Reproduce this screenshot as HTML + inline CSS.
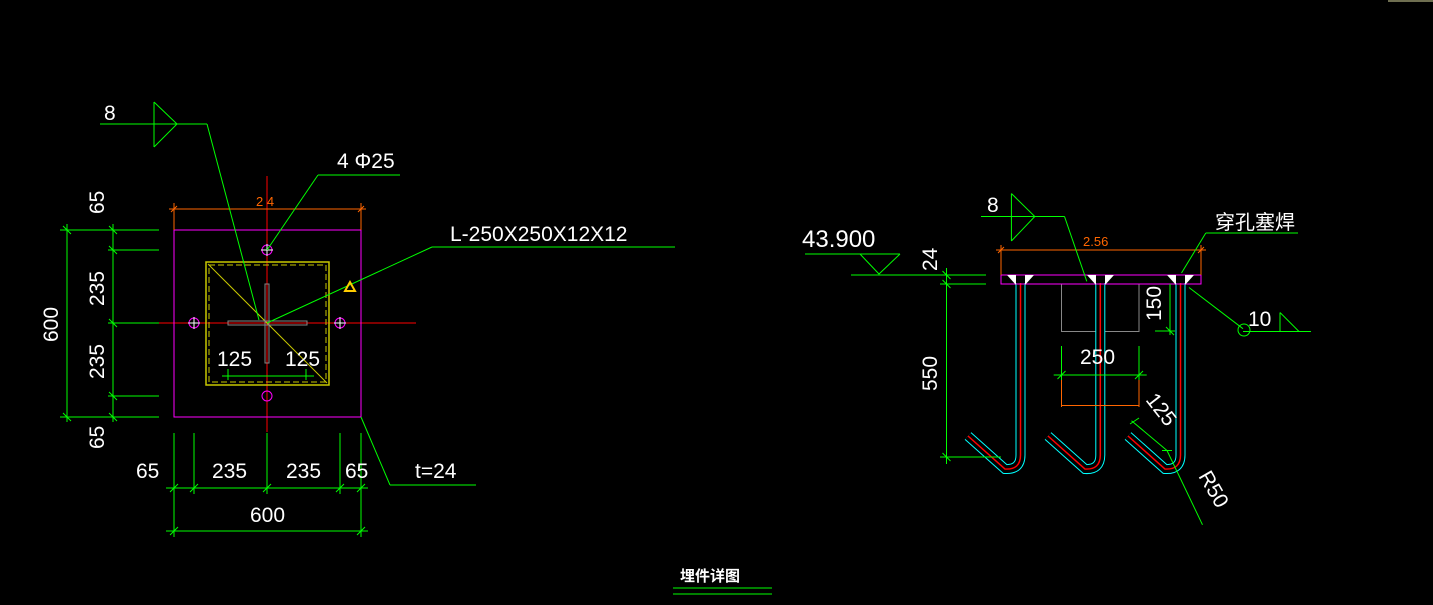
<!DOCTYPE html>
<html><head><meta charset="utf-8"><style>
html,body{margin:0;padding:0;background:#000;width:1433px;height:605px;overflow:hidden}
svg{display:block}
text{font-family:"Liberation Sans","Noto Sans CJK SC",sans-serif;fill:#fff}
</style></head><body>
<svg width="1433" height="605" viewBox="0 0 1433 605" xmlns="http://www.w3.org/2000/svg">
<line x1="1388" y1="1" x2="1433" y2="1" stroke="#dcdca0" stroke-width="1"/>
<!-- LEFT PLAN -->
<g fill="none" stroke-width="1">
<line x1="159" y1="323" x2="416" y2="323" stroke="#f00"/>
<line x1="267" y1="176" x2="267" y2="432" stroke="#f00"/>
<rect x="174" y="230" width="187" height="187" stroke="#f0f"/>
<rect x="206" y="262" width="123" height="123" stroke="#c8c800" stroke-width="1.5"/>
<rect x="209" y="265" width="117" height="117" stroke="#c8c800" stroke-width="1" stroke-dasharray="6 3"/>
<line x1="208" y1="264" x2="327" y2="383" stroke="#c8c800"/>
<rect x="228" y="321" width="79" height="4" stroke="#888"/>
<rect x="265" y="284" width="4" height="79" stroke="#888"/>
<g stroke="#f0f"><circle cx="267" cy="250" r="5"/><circle cx="267" cy="396" r="5"/><circle cx="194" cy="323" r="5"/><circle cx="340" cy="323" r="5"/></g>
<g stroke="#fff"><line x1="261" y1="250" x2="273" y2="250"/><line x1="267" y1="244" x2="267" y2="256"/><line x1="188" y1="323" x2="200" y2="323"/><line x1="194" y1="317" x2="194" y2="329"/><line x1="334" y1="323" x2="346" y2="323"/><line x1="340" y1="317" x2="340" y2="329"/></g>
<g stroke="#f60"><line x1="169" y1="209" x2="366" y2="209"/><line x1="174" y1="203" x2="174" y2="230"/><line x1="361" y1="203" x2="361" y2="230"/><line x1="171" y1="212" x2="177" y2="206"/><line x1="358" y1="212" x2="364" y2="206"/></g>
<g stroke="#0f0">
<line x1="67" y1="224" x2="67" y2="422"/><line x1="113" y1="224" x2="113" y2="422"/>
<line x1="60" y1="230" x2="159" y2="230"/><line x1="108" y1="250" x2="159" y2="250"/><line x1="108" y1="323" x2="159" y2="323"/><line x1="108" y1="396" x2="159" y2="396"/><line x1="60" y1="417" x2="159" y2="417"/>
<line x1="63" y1="226" x2="71" y2="234"/><line x1="63" y1="413" x2="71" y2="421"/>
<line x1="109" y1="226" x2="117" y2="234"/><line x1="109" y1="246" x2="117" y2="254"/><line x1="109" y1="319" x2="117" y2="327"/><line x1="109" y1="392" x2="117" y2="400"/><line x1="109" y1="413" x2="117" y2="421"/>
<line x1="174" y1="433" x2="174" y2="537"/><line x1="194" y1="433" x2="194" y2="494"/><line x1="267" y1="433" x2="267" y2="494"/><line x1="340" y1="433" x2="340" y2="494"/><line x1="361" y1="433" x2="361" y2="537"/>
<line x1="166" y1="488" x2="368" y2="488"/><line x1="166" y1="531" x2="368" y2="531"/>
<line x1="170" y1="492" x2="178" y2="484"/><line x1="190" y1="492" x2="198" y2="484"/><line x1="263" y1="492" x2="271" y2="484"/><line x1="336" y1="492" x2="344" y2="484"/><line x1="357" y1="492" x2="365" y2="484"/>
<line x1="170" y1="535" x2="178" y2="527"/><line x1="357" y1="535" x2="365" y2="527"/>
<line x1="222" y1="376" x2="314" y2="376"/><line x1="228" y1="369" x2="228" y2="380"/><line x1="306" y1="369" x2="306" y2="380"/>
<line x1="361" y1="417" x2="390" y2="485"/><line x1="390" y1="485" x2="476" y2="485"/>
<line x1="100" y1="124" x2="207" y2="124"/><line x1="154" y1="102" x2="154" y2="147"/><polyline points="154,102 177,124 154,147"/>
<line x1="207" y1="124" x2="259" y2="320"/>
<line x1="267" y1="250" x2="318" y2="175"/><line x1="318" y1="175" x2="400" y2="175"/>
<line x1="267" y1="323" x2="432" y2="247"/><line x1="432" y1="247" x2="675" y2="247"/>
</g>
<polygon points="350,282 345,291 355,291" stroke="#fc0" stroke-width="2"/>
</g>
<g font-size="21">
<text x="104" y="120">8</text>
<text x="337" y="168">4 Φ25</text>
<text x="450" y="241">L-250X250X12X12</text>
<text x="415" y="478">t=24</text>
<text x="136" y="478">65</text>
<text x="212" y="478">235</text>
<text x="286" y="478">235</text>
<text x="345" y="478">65</text>
<text x="250" y="522">600</text>
<text x="217" y="366">125</text>
<text x="285" y="366">125</text>
<text x="0" y="0" transform="translate(104,214) rotate(-90)">65</text>
<text x="0" y="0" transform="translate(104,306) rotate(-90)">235</text>
<text x="0" y="0" transform="translate(104,379) rotate(-90)">235</text>
<text x="0" y="0" transform="translate(104,449) rotate(-90)">65</text>
<text x="0" y="0" transform="translate(58,342) rotate(-90)">600</text>
</g>
<text x="256" y="206" font-size="13" style="fill:#f60">2 4</text>

<!-- RIGHT SECTION -->
<g fill="none" stroke-width="1">
<rect x="1061.5" y="284" width="77.5" height="47.5" stroke="#888"/>
<g id="bars">
<path d="M1020.5 283 V455 Q1020.5 470 1005 469 L968 436" stroke="#0ff" stroke-width="10"/>
<path d="M1020.5 283 V455 Q1020.5 470 1005 469 L968 436" stroke="#000" stroke-width="8"/>
<path d="M1020.5 283 V455 Q1020.5 470 1005 469 L968 436" stroke="#f00" stroke-width="1.5"/>
<path d="M1100.3 283 V455 Q1100.3 470 1085 469 L1048 436" stroke="#0ff" stroke-width="10"/>
<path d="M1100.3 283 V455 Q1100.3 470 1085 469 L1048 436" stroke="#000" stroke-width="8"/>
<path d="M1100.3 283 V455 Q1100.3 470 1085 469 L1048 436" stroke="#f00" stroke-width="1.5"/>
<path d="M1180.5 283 V455 Q1180.5 470 1165 469 L1128 436" stroke="#0ff" stroke-width="10"/>
<path d="M1180.5 283 V455 Q1180.5 470 1165 469 L1128 436" stroke="#000" stroke-width="8"/>
<path d="M1180.5 283 V455 Q1180.5 470 1165 469 L1128 436" stroke="#f00" stroke-width="1.5"/>
</g>
<rect x="1001" y="275" width="200" height="9" stroke="#f0f"/>
<g stroke="#f60"><line x1="996" y1="250" x2="1206" y2="250"/><line x1="1001" y1="245" x2="1001" y2="275"/><line x1="1201" y1="245" x2="1201" y2="275"/><line x1="998" y1="253" x2="1004" y2="247"/><line x1="1198" y1="253" x2="1204" y2="247"/>
<line x1="1061.5" y1="405.5" x2="1139" y2="405.5"/><line x1="1061.5" y1="379" x2="1061.5" y2="407"/><line x1="1139" y1="379" x2="1139" y2="407"/></g>
<g stroke="#0f0">
<line x1="805" y1="254" x2="900" y2="254"/><polyline points="860,254 879,274 900,254"/>
<line x1="851" y1="275" x2="986" y2="275"/><line x1="940" y1="284" x2="986" y2="284"/>
<line x1="946.5" y1="268" x2="946.5" y2="464"/><line x1="940" y1="457" x2="1001" y2="457"/>
<line x1="942.5" y1="271" x2="950.5" y2="279"/><line x1="942.5" y1="280" x2="950.5" y2="288"/><line x1="942.5" y1="453" x2="950.5" y2="461"/>
<line x1="1170" y1="284" x2="1170" y2="335"/><line x1="1155" y1="331" x2="1175" y2="331"/><line x1="1166" y1="327" x2="1174" y2="335"/>
<line x1="1053.7" y1="375" x2="1146.7" y2="375"/><line x1="1061.5" y1="346" x2="1061.5" y2="380"/><line x1="1139" y1="346" x2="1139" y2="380"/>
<line x1="1057.5" y1="379" x2="1065.5" y2="371"/><line x1="1135" y1="379" x2="1143" y2="371"/>
<line x1="1131.5" y1="420.7" x2="1167" y2="450.5"/><line x1="1130" y1="424" x2="1139" y2="418"/><line x1="1162" y1="450.5" x2="1172" y2="450.5"/>
<line x1="1167" y1="450.5" x2="1202.5" y2="524.8"/>
<line x1="981" y1="216.5" x2="1064.5" y2="216.5"/><line x1="1011.4" y1="193.5" x2="1011.4" y2="241"/><polyline points="1011.4,193.5 1034.8,216.5 1011.4,241"/>
<line x1="1064.5" y1="216.5" x2="1086.8" y2="281.4"/>
<line x1="1205.8" y1="233" x2="1298" y2="233"/><line x1="1205.8" y1="233" x2="1181.5" y2="273"/>
<line x1="1189" y1="287.5" x2="1243" y2="328.7"/><circle cx="1244" cy="330" r="6"/>
<line x1="1243" y1="331.5" x2="1311" y2="331.5"/><polyline points="1280,312.5 1280,331.5 1299,331.5"/><line x1="1280" y1="312.5" x2="1299" y2="331.5"/>
</g>
</g>
<g fill="#fff">
<polygon points="1007,275 1016,275 1016,285"/><polygon points="1034,275 1025,275 1025,285"/>
<polygon points="1087,275 1096,275 1096,285"/><polygon points="1114,275 1105,275 1105,285"/>
<polygon points="1167,275 1176,275 1176,285"/><polygon points="1194,275 1185,275 1185,285"/>
</g>
<g font-size="21">
<text x="987" y="212">8</text>
<text x="802" y="247" font-size="24">43.900</text>
<text x="0" y="0" transform="translate(1248,326)">10</text>
<text x="1080" y="364">250</text>
<text x="1215" y="229" font-size="20">穿孔塞焊</text>
<text x="0" y="0" transform="translate(937,271) rotate(-90)">24</text>
<text x="0" y="0" transform="translate(937,391) rotate(-90)">550</text>
<text x="0" y="0" transform="translate(1161,321) rotate(-90)">150</text>
<text x="0" y="0" transform="translate(1145,400) rotate(52)">125</text>
<text x="0" y="0" transform="translate(1198,476) rotate(60)">R50</text>
</g>
<text x="1083" y="246" font-size="13" style="fill:#f60">2.56</text>
<text x="680" y="581" font-size="15" font-weight="bold">埋件详图</text>
<line x1="673" y1="588" x2="772" y2="588" stroke="#0f0"/>
<line x1="673" y1="594" x2="772" y2="594" stroke="#0f0"/>
</svg>
</body></html>
